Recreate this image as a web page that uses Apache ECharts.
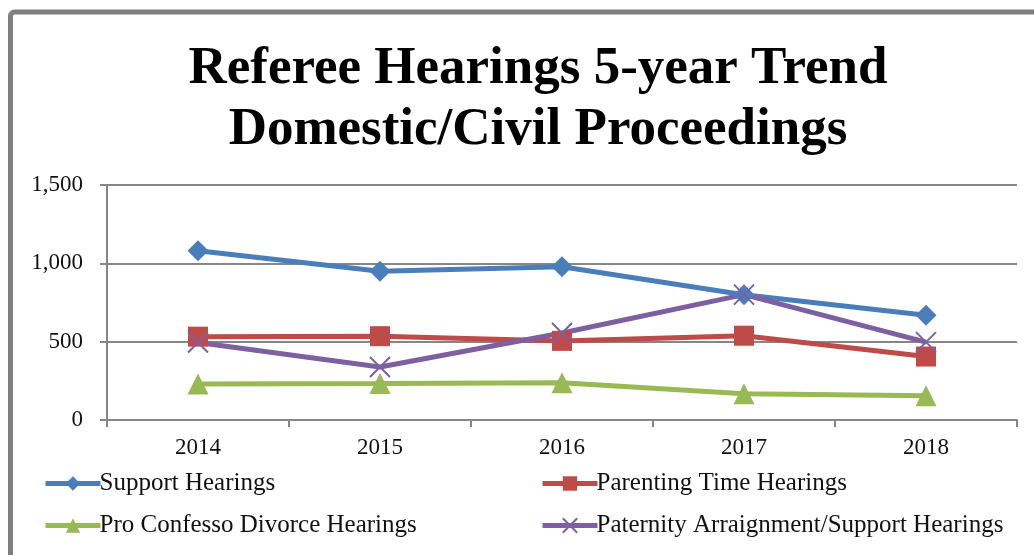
<!DOCTYPE html>
<html>
<head>
<meta charset="utf-8">
<title>Referee Hearings 5-year Trend</title>
<script src="https://cdn.jsdelivr.net/npm/echarts@6/dist/echarts.min.js"></script>
<style>
  html, body { margin: 0; padding: 0; background: #fff; }
  #chart { width: 1034px; height: 555px; }
</style>
</head>
<body>
<div id="chart"></div>
<script>
var years = ['2014', '2015', '2016', '2017', '2018']
var supportHearings = [1080, 950, 978, 800, 668]
var parentingTime = [532, 535, 505, 538, 405]
var proConfesso = [230, 233, 237, 167, 155]
var paternity = [495, 338, 555, 800, 497]

var seriesNames = [
  'Support Hearings',
  'Parenting Time Hearings',
  'Pro Confesso Divorce Hearings',
  'Paternity Arraignment/Support Hearings'
]
var colors = ['#4A7EBB', '#BE4B48', '#98B954', '#7D60A0']
var serif = "'Liberation Serif', 'DejaVu Serif', serif"

var crossPath = 'path://M0,0 L10,10 M10,0 L0,10'

function legendAt (name, left, top) {
  return {
    data: [name],
    left: left,
    top: top,
    padding: 0,
    itemWidth: 55,
    itemHeight: 18,
    itemGap: 0,
    lineStyle: { width: 5 },
    textStyle: { fontFamily: serif, fontSize: 25, color: '#111', padding: [0, 0, 0, -6] },
    selectedMode: false
  }
}

var options = {
  animation: false,
  color: colors,
  title: {
    text: 'Referee Hearings 5-year Trend\nDomestic/Civil Proceedings',
    left: 533,
    textAlign: 'center',
    top: 34,
    textStyle: {
      fontFamily: serif,
      fontWeight: 'bold',
      fontSize: 53,
      lineHeight: 61,
      color: '#000'
    }
  },
  graphic: [{
    type: 'rect',
    silent: true,
    shape: { x: 10.5, y: 12, width: 1100, height: 700, r: 4 },
    style: { fill: 'none', stroke: '#808080', lineWidth: 5 }
  }],
  legend: [
    legendAt(seriesNames[0], 43, 471),
    legendAt(seriesNames[1], 540, 471),
    legendAt(seriesNames[2], 43, 513),
    legendAt(seriesNames[3], 540, 513)
  ],
  grid: {
    left: 107,
    right: 17,
    top: 185,
    bottom: 135
  },
  xAxis: {
    type: 'category',
    data: years,
    boundaryGap: true,
    axisLine: { lineStyle: { color: '#868686', width: 2 } },
    axisTick: { show: true, length: 7, lineStyle: { color: '#868686', width: 2 } },
    axisLabel: { fontFamily: serif, fontSize: 23, color: '#111', margin: 16 }
  },
  yAxis: {
    type: 'value',
    min: 0,
    max: 1500,
    interval: 500,
    axisLine: { show: true, lineStyle: { color: '#868686', width: 2 } },
    axisTick: { show: true, length: 7, lineStyle: { color: '#868686', width: 2 } },
    axisLabel: {
      fontFamily: serif,
      fontSize: 23,
      color: '#111',
      margin: 24,
      formatter: function (v) { return v.toLocaleString('en-US') }
    },
    splitLine: { lineStyle: { color: '#868686', width: 2 } }
  },
  series: [
    {
      name: seriesNames[0],
      type: 'line',
      data: supportHearings,
      symbol: 'diamond',
      symbolSize: 21,
      lineStyle: { width: 5 }
    },
    {
      name: seriesNames[1],
      type: 'line',
      data: parentingTime,
      symbol: 'rect',
      symbolSize: 20,
      lineStyle: { width: 5 }
    },
    {
      name: seriesNames[2],
      type: 'line',
      data: proConfesso,
      symbol: 'triangle',
      symbolSize: 21,
      lineStyle: { width: 5 }
    },
    {
      name: seriesNames[3],
      type: 'line',
      data: paternity,
      symbol: crossPath,
      symbolSize: 20,
      itemStyle: { borderColor: colors[3], borderWidth: 2 },
      lineStyle: { width: 5 }
    }
  ]
}

var myChart = echarts.init(document.getElementById('chart'))
myChart.setOption(options)
</script>
</body>
</html>
